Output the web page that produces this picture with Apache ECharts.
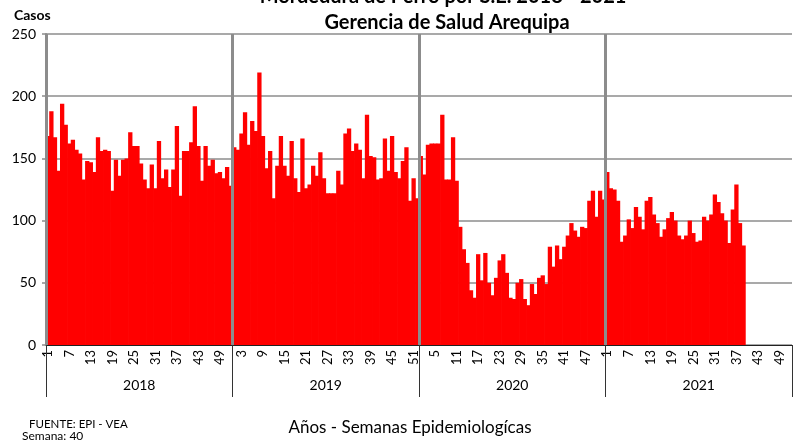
<!DOCTYPE html>
<html>
<head>
    <meta charset="utf-8" />
    <title>Mordedura de Perro por S.E. 2018 - 2021</title>
    <script src="https://cdn.jsdelivr.net/npm/echarts@6/dist/echarts.min.js"></script>
    <style>
        html, body { margin: 0; padding: 0; background: #fff; }
        #content { width: 795px; height: 441px; }
    </style>
</head>
<body>
    <div id="content"></div>
    <script type="text/javascript">
        // casos por semana epidemiologica
        var years = ["2018", "2019", "2020", "2021"];
        var weeksPerYear = 52;
        var w2018 = [168, 188, 167, 140, 194, 177, 162, 165, 157, 154, 133, 148, 147, 139, 167, 156, 157, 156, 124, 149,
            136, 149, 150, 171, 160, 160, 146, 133, 126, 145, 126, 164, 134, 141, 127, 141, 176, 120, 156, 156,
            163, 192, 160, 132, 160, 144, 149, 138, 139, 134, 143, 128];
        var w2019 = [159, 157, 170, 187, 161, 180, 172, 219, 168, 142, 156, 118, 144, 168, 144, 136, 164, 134, 123, 166,
            126, 129, 144, 136, 155, 134, 122, 122, 122, 140, 129, 170, 174, 156, 162, 157, 134, 185, 152, 151,
            133, 134, 166, 140, 168, 139, 134, 148, 159, 116, 134, 118];
        var w2020 = [152, 137, 161, 162, 162, 162, 185, 133, 133, 167, 132, 95, 77, 66, 44, 38, 73, 52, 74, 50,
            40, 54, 68, 73, 58, 38, 37, 50, 53, 37, 32, 49, 41, 54, 56, 49, 79, 63, 80, 69,
            79, 88, 98, 92, 87, 95, 94, 116, 124, 103, 124, 117];
        var w2021 = [139, 126, 125, 116, 83, 88, 101, 94, 111, 103, 93, 116, 119, 105, 98, 87, 93, 102, 107, 100,
            88, 85, 88, 100, 90, 83, 84, 103, 100, 105, 121, 115, 106, 100, 82, 109, 129, 98, 80];

        var font = "Lato, 'Open Sans', sans-serif";
        var gris = "#8c8c8c";

        var x_name = [];
        var x_data = [];
        var porAnio = [w2018, w2019, w2020, w2021];
        for (var a = 0; a < years.length; a++) {
            for (var s = 1; s <= weeksPerYear; s++) {
                x_name.push(years[a] + "-" + s);
                var v = porAnio[a][s - 1];
                x_data.push(v === undefined ? null : v);
            }
        }

        var myChart = echarts.init(document.getElementById("content"));
        myChart.setOption({
            animation: false,
            textStyle: { fontFamily: font },
            title: [{
                text: "Mordedura de Perro por S.E. 2018 - 2021",
                left: 438, top: -18, textAlign: "center",
                textStyle: { fontSize: 20, fontWeight: "bold", color: "#000", fontFamily: font }
            }, {
                text: "Gerencia de Salud Arequipa",
                left: 442, top: 8, textAlign: "center",
                textStyle: { fontSize: 20, fontWeight: "bold", color: "#000", fontFamily: font }
            }, {
                text: "Casos",
                left: 9, top: 3,
                textStyle: { fontSize: 14, fontWeight: "bold", color: "#000", fontFamily: font }
            }, {
                text: "Años - Semanas Epidemiologícas",
                left: 405, top: 414, textAlign: "center",
                textStyle: { fontSize: 17, fontWeight: "normal", color: "#000", fontFamily: font }
            }, {
                text: "FUENTE: EPI - VEA",
                left: 24, top: 413,
                textStyle: { fontSize: 11.5, fontWeight: "normal", color: "#000", fontFamily: font }
            }, {
                text: "Semana: 40",
                left: 17, top: 425,
                textStyle: { fontSize: 12, fontWeight: "normal", color: "#000", fontFamily: font }
            }],
            grid: { left: 46, right: 3, top: 34, bottom: 96 },
            xAxis: [{
                type: "category",
                data: x_name,
                axisLine: { lineStyle: { color: "#222", width: 1 } },
                axisTick: { show: false },
                axisLabel: {
                    interval: 5,
                    rotate: 90,
                    margin: 5,
                    fontSize: 13,
                    color: "#000",
                    formatter: function (val) { return val.split("-")[1]; }
                },
                splitLine: { show: false }
            }, {
                type: "category",
                data: years,
                position: "bottom",
                z: 5,
                axisLine: { show: false },
                axisTick: { show: true, length: 52, lineStyle: { color: "#333", width: 1 } },
                axisLabel: { margin: 33, fontSize: 14, color: "#000" },
                splitLine: { show: true, showMaxLine: false, lineStyle: { color: gris, width: 3 } }
            }],
            yAxis: {
                type: "value",
                min: 0,
                max: 250,
                interval: 50,
                axisLine: { show: true, lineStyle: { color: gris, width: 2 } },
                axisTick: { show: true, length: 4, lineStyle: { color: gris, width: 1.5 } },
                axisLabel: { fontSize: 14, color: "#000", margin: 10 },
                splitLine: { show: true, lineStyle: { color: gris, width: 1.5 } }
            },
            series: [{
                type: "bar",
                data: x_data,
                xAxisIndex: 0,
                barWidth: 4.3,
                itemStyle: { color: "#ff0000" }
            }]
        });
    </script>
</body>
</html>
